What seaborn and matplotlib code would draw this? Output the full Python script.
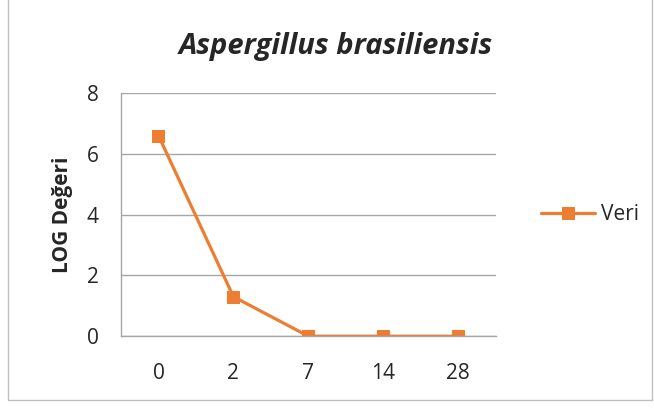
import matplotlib
matplotlib.use("Agg")
import matplotlib.pyplot as plt
import seaborn as sns
import pandas as pd
from matplotlib.patches import Rectangle

days = ["0", "2", "7", "14", "28"]
log_values = [6.6, 1.3, 0.0, 0.0, 0.0]
series_name = "Veri"

sns.set_style("white")
plt.rcParams["font.family"] = ["Open Sans", "DejaVu Sans"]

orange = "#ED7D31"
grid_grey = "#A6A6A6"

df = pd.DataFrame({"pos": range(len(days)), "log": log_values})

fig = plt.figure(figsize=(6.54, 4.08), dpi=100)
ax = fig.add_axes([0.185, 0.176, 0.573, 0.596])

sns.lineplot(data=df, x="pos", y="log", ax=ax, color=orange, linewidth=2.3,
             marker="s", markersize=8, markeredgecolor=orange, label=series_name)

ax.set_xlim(-0.5, len(days) - 0.5)
ax.set_ylim(0, 8)
ax.set_yticks([0, 2, 4, 6, 8])
ax.set_xticks(range(len(days)))
ax.set_xticklabels(days)
ax.tick_params(axis="both", length=0, labelsize=15, colors="#262626")
ax.tick_params(axis="y", pad=16)
ax.tick_params(axis="x", pad=19)
ax.yaxis.grid(True, color=grid_grey, linewidth=1)
ax.set_axisbelow(True)
for side in ["top", "right"]:
    ax.spines[side].set_visible(False)
for side in ["left", "bottom"]:
    ax.spines[side].set_color(grid_grey)
    ax.spines[side].set_linewidth(1)

ax.set_xlabel("")
ax.set_ylabel("LOG Değeri", fontsize=15, fontweight="bold", labelpad=10)

# chart title sits centred on the whole chart area, not on the plot
fig.text(0.514, 0.885, "Aspergillus brasiliensis", fontsize=21, fontweight="bold",
         style="italic", ha="center", va="center")

leg = ax.legend(loc="center left", bbox_to_anchor=(1.07, 0.5), frameon=False,
                fontsize=15, handlelength=2.6, handletextpad=0.3)

# outer chart border
fig.patches.append(Rectangle((0.012, 0.02), 0.985, 1.2, transform=fig.transFigure,
                             fill=False, edgecolor="#BFBFBF", linewidth=1))

fig.savefig("out.png", dpi=100)
